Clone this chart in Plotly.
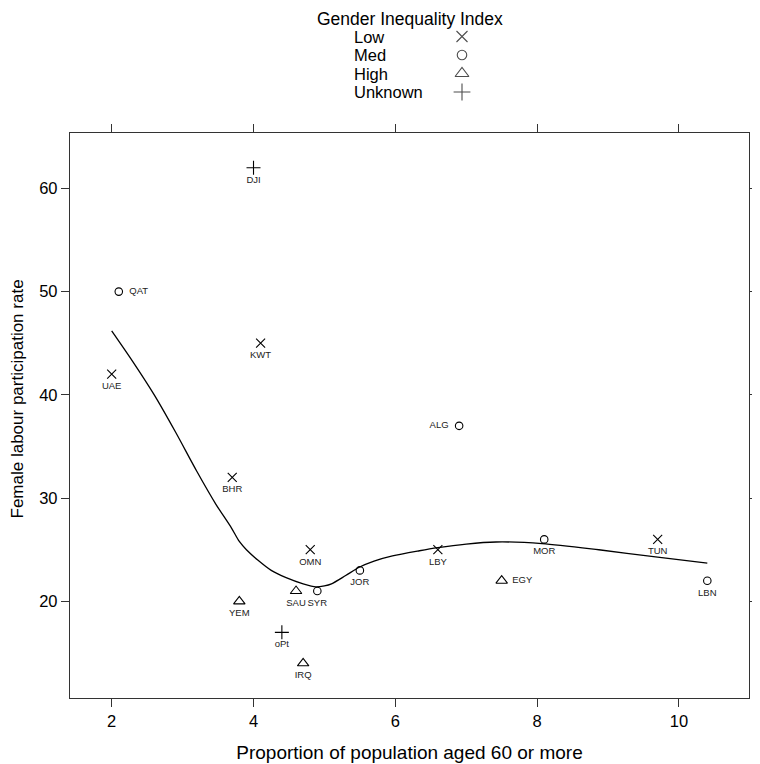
import plotly.graph_objs as go

# data
countries = ["UAE", "QAT", "DJI", "KWT", "BHR", "ALG", "OMN", "JOR", "LBY",
             "MOR", "TUN", "EGY", "LBN", "YEM", "SAU", "SYR", "oPt", "IRQ"]
aged60 = [2.0, 2.1, 4.0, 4.1, 3.7, 6.9, 4.8, 5.5, 6.6,
          8.1, 9.7, 7.5, 10.4, 3.8, 4.6, 4.9, 4.4, 4.7]
flpr = [42, 50, 62, 45, 32, 37, 25, 23, 25,
        26, 26, 22, 22, 20, 21, 21, 17, 14]
gii = ["Low", "Med", "Unknown", "Low", "Low", "Med", "Low", "Med", "Low",
       "Med", "Low", "High", "Med", "High", "High", "Med", "Unknown", "High"]
groups = ["Low", "Med", "High", "Unknown"]

# loess smooth
smooth_x = [2.0, 2.3, 2.6, 2.9, 3.2, 3.47, 3.69, 3.8, 3.9, 4.06, 4.25, 4.46,
            4.7, 4.88, 5.0, 5.1, 5.3, 5.49, 5.7, 5.96, 6.34, 6.6, 7.0, 7.42,
            8.07, 8.87, 9.67, 10.4]
smooth_y = [46.2, 43.2, 40.0, 36.4, 32.6, 29.4, 27.1, 25.8, 25.0, 24.0, 23.0, 22.3,
            21.7, 21.4, 21.5, 21.7, 22.5, 23.3, 23.9, 24.4, 24.9, 25.2, 25.55, 25.75,
            25.6, 25.0, 24.3, 23.7]

FONT = "Liberation Sans, Arial, Helvetica, sans-serif"
symbols = {"Low": "x-thin-open", "Med": "circle-open",
           "High": "triangle-up-open", "Unknown": "cross-thin-open"}
sizes = {"Low": 9, "Med": 7.5, "High": 10, "Unknown": 10}
label_side = {"QAT": "middle right", "ALG": "middle left", "EGY": "middle right"}

# the page body has an 8px margin, so the figure is 8px smaller and is laid out
# in window pixels minus 8
W, H = 752, 756
ML, MR, MB = 62, 11, 66
PANEL_TOP = 125               # figure px
PAPER_H = H - MB
PAPER_W = W - ML - MR

fig = go.Figure()

fig.add_trace(go.Scatter(x=smooth_x, y=smooth_y, mode="lines",
                         line=dict(color="black", width=1.3, shape="spline", smoothing=0.8),
                         showlegend=False, hoverinfo="skip"))

for g in groups:
    idx = [i for i, v in enumerate(gii) if v == g]
    xs = [aged60[i] for i in idx]
    ys = [flpr[i] for i in idx]
    fig.add_trace(go.Scatter(
        x=xs, y=ys, mode="markers",
        marker=dict(symbol=symbols[g], size=sizes[g], color="black",
                    line=dict(color="black", width=1.1)),
        showlegend=False, name=g))
    # labels ride on an invisible, larger marker so they sit a bit further off
    fig.add_trace(go.Scatter(
        x=xs, y=ys, mode="text+markers",
        marker=dict(size=11, color="rgba(0,0,0,0)"),
        text=[(" " + countries[i] + " ") if countries[i] in label_side else countries[i]
              for i in idx],
        textposition=[label_side.get(countries[i], "bottom center") for i in idx],
        textfont=dict(family=FONT, size=9.5, color="#222"),
        showlegend=False, hoverinfo="skip"))

# hand-made legend: text on the left, symbol on the right (lattice key style)
# legend axes are in window pixels
row_px = [36.5, 55, 73.5, 92]
fig.add_trace(go.Scatter(
    x=[462] * len(groups), y=row_px, mode="markers",
    marker=dict(symbol=[symbols[g] for g in groups], size=[sizes[g] + 2 for g in groups],
                color="black", line=dict(color="black", width=1.1)),
    xaxis="x2", yaxis="y2", showlegend=False, hoverinfo="skip"))

annotations = [dict(text="Gender Inequality Index", xref="x2", yref="y2", x=409.5, y=8,
                    showarrow=False, xanchor="center", yanchor="top", borderpad=0,
                    font=dict(family=FONT, size=17.5, color="black"))]
for g, yp in zip(groups, row_px):
    annotations.append(dict(text=g, xref="x2", yref="y2", x=353, y=yp, showarrow=False,
                            xanchor="left", yanchor="middle", borderpad=0,
                            font=dict(family=FONT, size=16.5, color="black")))
# y title, centred at window x ~17.5
annotations.append(dict(text="Female labour participation rate", textangle=-90,
                        xref="paper", yref="y", x=(17.5 - 70) / PAPER_W, y=39.6,
                        showarrow=False, xanchor="center", yanchor="middle",
                        font=dict(family=FONT, size=17, color="black")))

axis_common = dict(showgrid=False, zeroline=False, showline=True, linecolor="#333",
                   linewidth=1.3, mirror="ticks", ticks="outside", ticklen=8,
                   tickcolor="#333", tickwidth=1.3, automargin=False,
                   tickfont=dict(family=FONT, size=16.5, color="black"))

band = 120  # figure px of the legend band
fig.update_layout(
    width=W, height=H,
    margin=dict(l=ML, r=MR, t=0, b=MB),
    paper_bgcolor="white", plot_bgcolor="rgba(0,0,0,0)",
    xaxis=dict(range=[1.412, 10.988], tickvals=[2, 4, 6, 8, 10], domain=[0, 1], anchor="y",
               title=dict(text="Proportion of population aged 60 or more",
                          font=dict(family=FONT, size=19, color="black"), standoff=16),
               **axis_common),
    yaxis=dict(range=[10.64, 65.36], tickvals=[20, 30, 40, 50, 60],
               domain=[0, (PAPER_H - PANEL_TOP) / PAPER_H], anchor="x",
               **axis_common),
    xaxis2=dict(range=[70, 749], domain=[0, 1], visible=False, anchor="y2"),
    yaxis2=dict(range=[8 + band, 8], domain=[1 - band / PAPER_H, 1], visible=False, anchor="x2"),
    annotations=annotations,
)

fig.write_html("out.html")
